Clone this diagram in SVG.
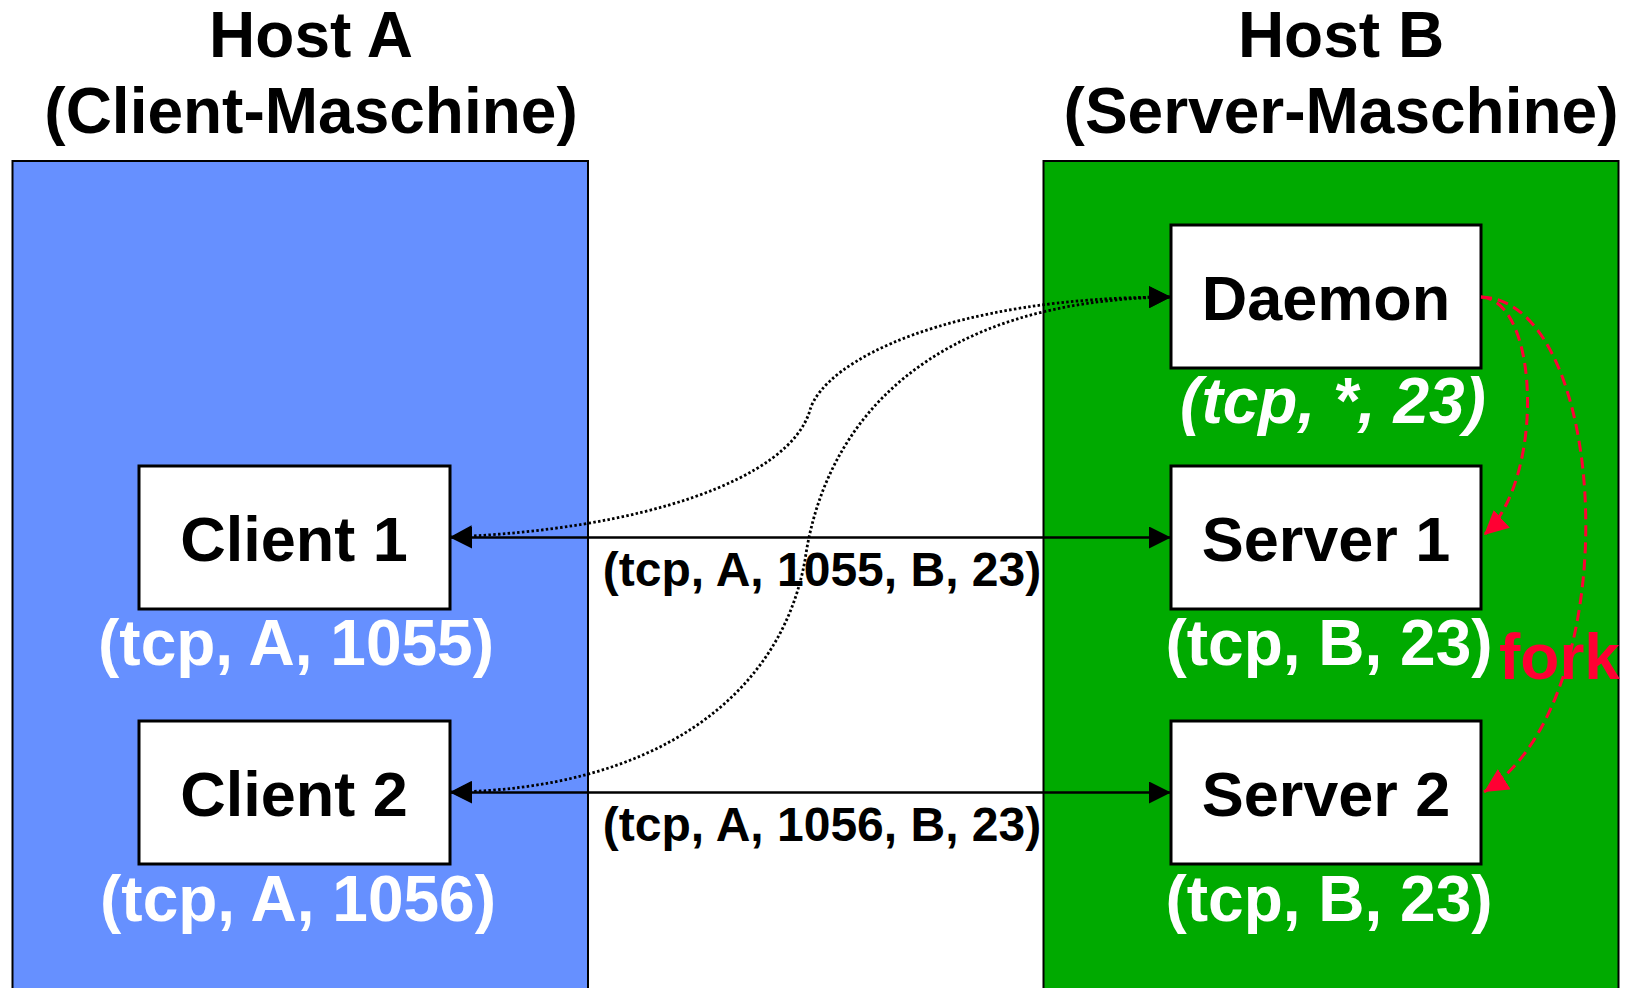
<svg xmlns="http://www.w3.org/2000/svg" width="1633" height="988" viewBox="0 0 1633 988">
  <defs>
    <marker id="arrow-black" viewBox="0 0 22 22" markerWidth="22" markerHeight="22" refX="22" refY="11" markerUnits="userSpaceOnUse" orient="auto-start-reverse">
      <path d="M0,0 L22,11 L0,22 z" fill="#000000"/>
    </marker>
    <marker id="arrow-red" viewBox="0 0 24 24" markerWidth="24" markerHeight="24" refX="24" refY="12" markerUnits="userSpaceOnUse" orient="auto">
      <path d="M0,0 L24,12 L0,24 z" fill="#FF0033"/>
    </marker>
    <style>
      text { font-family: "Liberation Sans", Arial, Helvetica, sans-serif; font-weight: bold; }
      .title { font-size: 64px; fill: #000000; text-anchor: middle; }
      .host-a { fill: #6690FF; stroke: #000000; stroke-width: 2; }
      .host-b { fill: #00AA00; stroke: #000000; stroke-width: 2; }
      .box { fill: #FFFFFF; stroke: #000000; stroke-width: 3; }
      .box-label { font-size: 63px; fill: #000000; text-anchor: middle; }
      .addr { font-size: 64px; fill: #FFFFFF; text-anchor: middle; }
      .addr-italic { font-style: italic; }
      .conn-label { font-size: 48px; fill: #000000; text-anchor: middle; }
      .fork { font-size: 64px; fill: #FF0033; }
      .link { fill: none; stroke: #000000; stroke-width: 2.5; marker-start: url(#arrow-black); marker-end: url(#arrow-black); }
      .dotted { stroke-width: 2.8; stroke-dasharray: 2.5 2.3; }
      .spawn { fill: none; stroke: #FF0033; stroke-width: 3; stroke-dasharray: 11 6; marker-end: url(#arrow-red); }
    </style>
  </defs>

  <!-- Machines -->
  <g id="host-a">
    <rect class="host-a" x="12.5" y="161" width="575.5" height="840"/>
    <text class="title" x="311" y="57">Host A</text>
    <text class="title" x="311" y="133">(Client-Maschine)</text>
  </g>
  <g id="host-b">
    <rect class="host-b" x="1043.5" y="161" width="575" height="840"/>
    <text class="title" x="1341" y="57">Host B</text>
    <text class="title" x="1341" y="133">(Server-Maschine)</text>
  </g>

  <!-- Processes on host A -->
  <g id="client-1">
    <rect class="box" x="139" y="466" width="311" height="143"/>
    <text class="box-label" x="294" y="561">Client 1</text>
    <text class="addr" x="296" y="665">(tcp, A, 1055)</text>
  </g>
  <g id="client-2">
    <rect class="box" x="139" y="721" width="311" height="143"/>
    <text class="box-label" x="294" y="816">Client 2</text>
    <text class="addr" x="298" y="921">(tcp, A, 1056)</text>
  </g>

  <!-- Processes on host B -->
  <g id="daemon">
    <rect class="box" x="1171" y="225" width="310" height="143"/>
    <text class="box-label" x="1326" y="320">Daemon</text>
    <text class="addr addr-italic" x="1333" y="423">(tcp, *, 23)</text>
  </g>
  <g id="server-1">
    <rect class="box" x="1171" y="466" width="310" height="143"/>
    <text class="box-label" x="1326" y="561">Server 1</text>
    <text class="addr" x="1329" y="665">(tcp, B, 23)</text>
  </g>
  <g id="server-2">
    <rect class="box" x="1171" y="721" width="310" height="143"/>
    <text class="box-label" x="1326" y="816">Server 2</text>
    <text class="addr" x="1329" y="921">(tcp, B, 23)</text>
  </g>

  <!-- Connections -->
  <g id="connectors">
    <path class="link" d="M450,537.5 L1171,537.5"/>
    <path class="link" d="M450,792.5 L1171,792.5"/>
    <path class="link dotted" d="M450,537 C640,530 790,480 810,410 C825,360 950,297 1171,297"/>
    <path class="link dotted" d="M450,792 C650,790 780,700 805,560 C825,420 930,300 1171,297"/>
    <path class="spawn" d="M1481,297 C1540,300 1545,480 1484,535"/>
    <path class="spawn" d="M1481,297 C1610,300 1630,700 1484,792"/>
    <text class="conn-label" x="822" y="586">(tcp, A, 1055, B, 23)</text>
    <text class="conn-label" x="822" y="841">(tcp, A, 1056, B, 23)</text>
    <text class="fork" x="1499" y="679">fork</text>
  </g>
</svg>
